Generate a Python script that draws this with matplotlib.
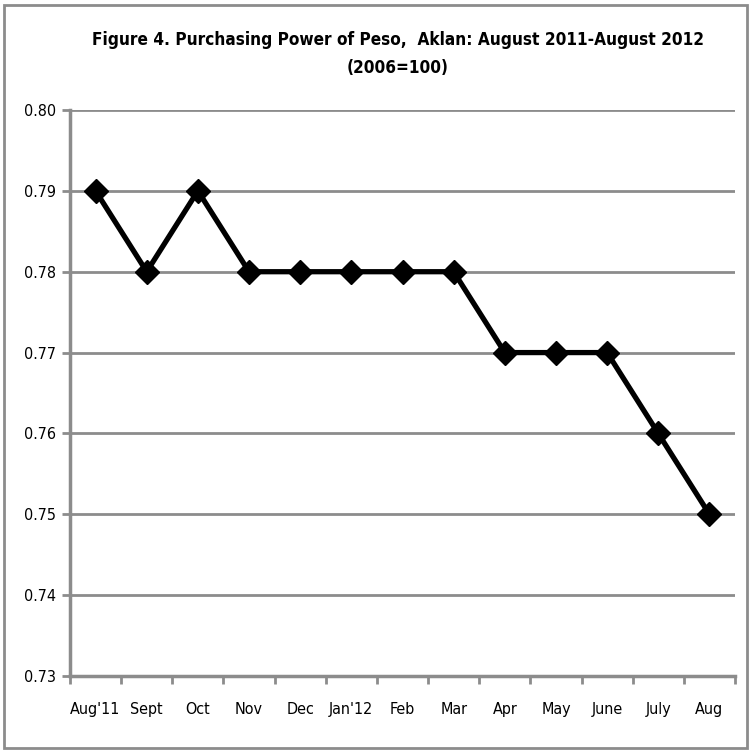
import numpy as np
import matplotlib
matplotlib.use("Agg")
import matplotlib.pyplot as plt
from matplotlib.patches import Rectangle

plt.rcParams['font.family'] = ['DejaVu Sans']
plt.rcParams['font.stretch'] = 'condensed'

months = ["Aug'11", "Sept", "Oct", "Nov", "Dec", "Jan'12", "Feb",
          "Mar", "Apr", "May", "June", "July", "Aug"]
peso_power = [0.79, 0.78, 0.79, 0.78, 0.78, 0.78, 0.78,
              0.78, 0.77, 0.77, 0.77, 0.76, 0.75]
y_ticks = [0.73, 0.74, 0.75, 0.76, 0.77, 0.78, 0.79, 0.80]

grey = "#8c8c8c"

fig = plt.figure(figsize=(7.5, 7.5), dpi=100)
ax = fig.add_axes([70/750, 1 - 676/750, (735 - 70)/750, (676 - 110)/750])

x = np.arange(len(months))
ax.plot(x, peso_power, color="black", linewidth=3.8, marker="D",
        markersize=12, zorder=3)

ax.set_xlim(-0.5, len(months) - 0.5)
ax.set_ylim(0.73, 0.80)
ax.set_yticks(y_ticks)
ax.set_yticklabels([f"{v:.2f}" for v in y_ticks])
ax.set_xticks(x)
ax.set_xticklabels(months)
ax.tick_params(axis="x", which="major", length=0, pad=19, labelsize=11.5)
ax.set_xticks(np.arange(len(months) + 1) - 0.5, minor=True)
ax.tick_params(axis="x", which="minor", length=6, width=2, color=grey,
               direction="out")
ax.tick_params(axis="y", length=6, width=2, color=grey, labelsize=11.5, pad=4)

ax.grid(axis="y", color=grey, linewidth=2)
ax.set_axisbelow(True)
for side in ["top", "right"]:
    ax.spines[side].set_visible(False)
for side in ["left", "bottom"]:
    ax.spines[side].set_color(grey)
    ax.spines[side].set_linewidth(2.5)

fig.text(398/750, 1 - 40/750,
         "Figure 4. Purchasing Power of Peso,  Aklan: August 2011-August 2012",
         ha="center", va="center", fontsize=12.3, fontweight="bold")
fig.text(398/750, 1 - 68/750, "(2006=100)",
         ha="center", va="center", fontsize=12.3, fontweight="bold")

fig.patches.append(Rectangle((4/750, 2/750), 743/750, 743/750,
                             transform=fig.transFigure, fill=False,
                             edgecolor=grey, linewidth=2))

fig.savefig("out.png", dpi=100)
